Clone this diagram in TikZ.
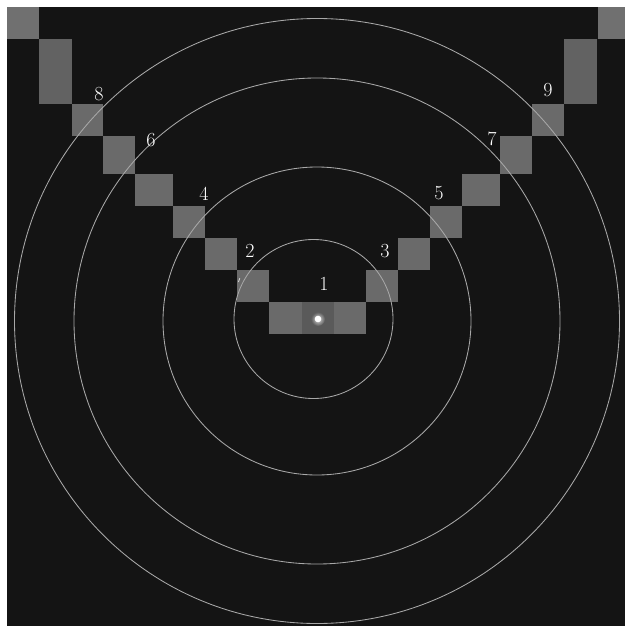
\documentclass[tikz,border=0pt]{standalone}
\begin{document}
\begin{tikzpicture}[x=1pt,y=-1pt,
  cell/.style={fill=sqgray,draw=none},
  ring/.style={draw=ringgray,line width=0.85pt},
  lbl/.style={text=white,font=\fontsize{20}{20}\selectfont,inner sep=0pt}]
\definecolor{bg}{HTML}{141414}
\definecolor{sqgray}{HTML}{6A6A6A}
\definecolor{sqdark}{HTML}{626262}
\definecolor{sqlight}{HTML}{707070}
\definecolor{sqcenter}{HTML}{5A5A5A}
\definecolor{ringgray}{HTML}{A8A8A8}
\useasboundingbox (0,0) rectangle (625,626);
\fill[white] (0,0) rectangle (625,626);
\fill[bg] (7,7) rectangle (625,626);
% left staircase
\fill[sqlight] (7,7) rectangle (39,39);
\fill[sqdark] (39,39) rectangle (71.5,104);
\fill[cell] (71.5,104) rectangle (103.3,136);
\fill[cell] (103.3,136) rectangle (135.3,174);
\fill[cell] (135.3,174) rectangle (173.3,206);
\fill[cell] (173.3,206) rectangle (205.3,238);
\fill[cell] (205.3,238) rectangle (237.3,270);
\fill[cell] (237.3,270) rectangle (269.3,302.3);
% bottom row
\fill[cell] (269.3,302.3) rectangle (302.3,334.3);
\fill[sqcenter] (302.3,302.3) rectangle (334,334.3);
\fill[cell] (334,302.3) rectangle (366,334.3);
% right staircase
\fill[cell] (366,270) rectangle (397.6,302.3);
\fill[cell] (397.6,238) rectangle (430,270);
\fill[cell] (430,206) rectangle (461.8,238);
\fill[cell] (461.8,174) rectangle (500,206);
\fill[cell] (500,136) rectangle (532.3,174);
\fill[cell] (532.3,104) rectangle (564.3,136);
\fill[sqdark] (564.3,39) rectangle (596.7,104);
\fill[sqlight] (597.5,7) rectangle (625,39);
% rings
\draw[ring] (313.5,319) circle[radius=79.5];
\draw[ring] (317,321) circle[radius=154];
\draw[ring] (317,321) circle[radius=243];
\draw[ring] (317,321) circle[radius=302.5];
% centre dot with soft glow
\shade[inner color=white!80!sqcenter,outer color=sqcenter] (318,319) circle[radius=7];
\fill[white] (318,319) circle[radius=3.3];
% small tick
\draw[white!85!black,line width=0.8pt] (238.4,282) -- (239.8,278.2);
% labels
\node[lbl] (n1) at (324,284) {1};
\node[lbl] (n2) at (250,251) {2};
\node[lbl] (n3) at (385,251) {3};
\node[lbl] (n4) at (204,194) {4};
\node[lbl] (n5) at (439,193) {5};
\node[lbl] (n6) at (151,140) {6};
\node[lbl] (n7) at (492,139) {7};
\node[lbl] (n8) at (99,94) {8};
\node[lbl] (n9) at (548,90) {9};
\end{tikzpicture}
\end{document}
